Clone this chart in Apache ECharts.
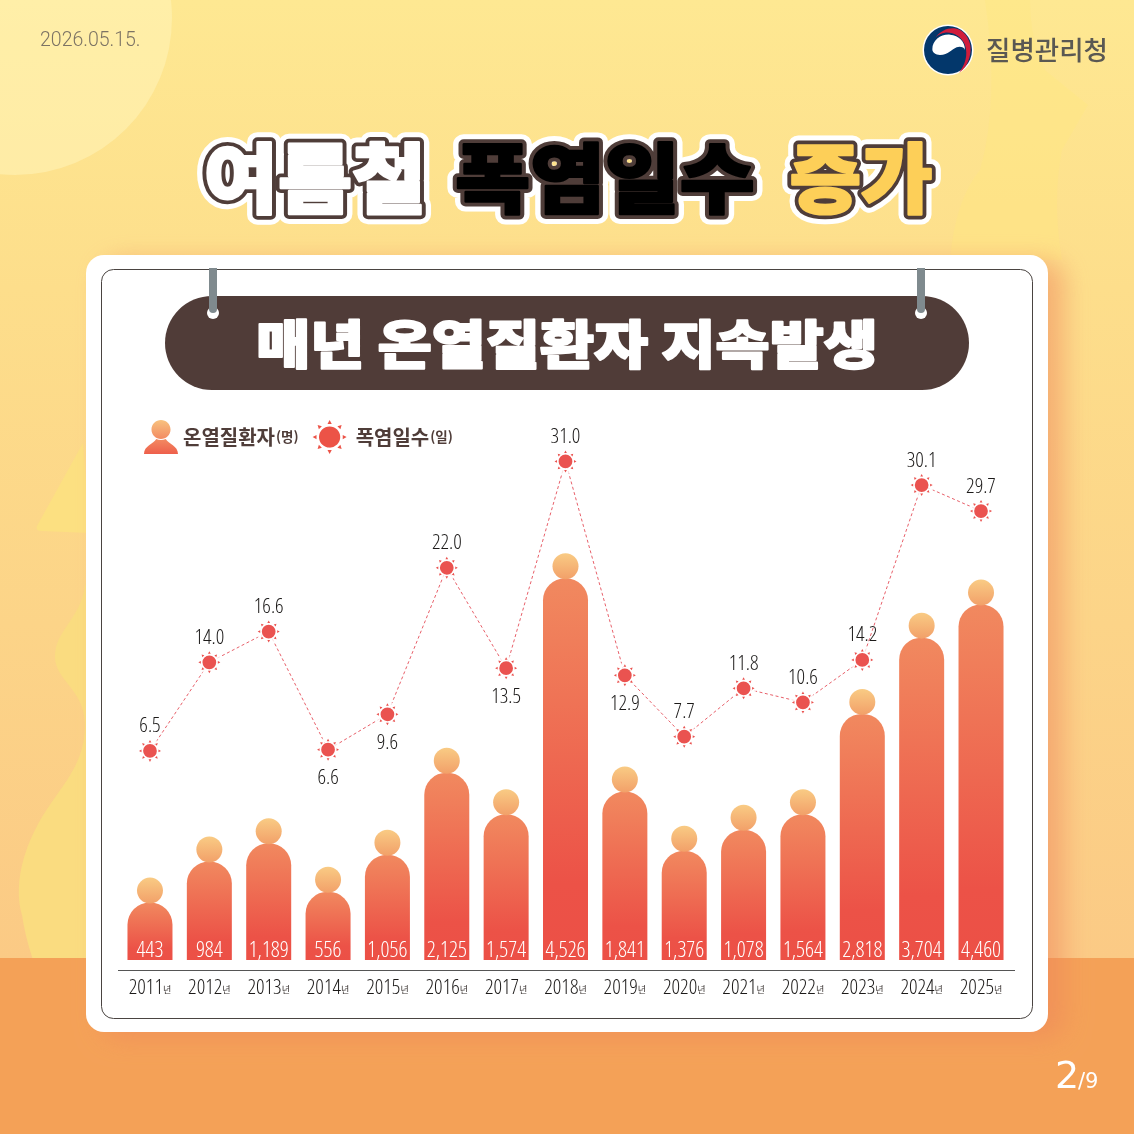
<!DOCTYPE html>
<html lang="ko">
<head>
<meta charset="utf-8">
<style>html,body{margin:0;padding:0;background:#fff}#c{width:1134px;height:1134px}</style>
<script src="https://cdn.jsdelivr.net/npm/echarts@6/dist/echarts.min.js"></script>
</head>
<body>
<div id="c"></div>
<script>
const years = ['2011','2012','2013','2014','2015','2016','2017','2018','2019','2020','2021','2022','2023','2024','2025'];
// printed figures
const patients = [443,984,1189,556,1056,2125,1574,4526,1841,1376,1078,1564,2818,3704,4460];
const heatDays = [6.5,14.0,16.6,6.6,9.6,22.0,13.5,31.0,12.9,7.7,11.8,10.6,14.2,30.1,29.7];
// values as the picture actually draws them (the graphic departs from its labels on a few years)
const patientsDrawn = [443,960,1189,580,1045,2078,1555,4526,1841,1096,1360,1555,2818,3778,4194];
const heatDaysDrawn = [6.5,14.0,16.6,6.6,9.6,22.0,13.5,31.0,12.9,7.7,11.8,10.6,14.2,29.0,26.8];
const labelsBelow = ['2014','2015','2017','2019'];

// round joins on stroked text (the title outlines)
const proto = CanvasRenderingContext2D.prototype, strokeTextOrig = proto.strokeText;
proto.strokeText = function(){ this.lineJoin='round'; return strokeTextOrig.apply(this, arguments); };

const KR = '"Noto Sans CJK KR","Noto Sans",sans-serif';
const NARROW = '"Open Sans",sans-serif';
const NARROW_WEIGHT = '300 condensed';
const chart = echarts.init(document.getElementById('c'), null, {renderer:'canvas'});
const LG = echarts.graphic.LinearGradient;
const PMIN = -280, PMAX = 6770;

function shape(name, d){
  echarts.graphic.registerShape(name, echarts.graphic.extendPath(d));
  return name;
}

function sunPath(){
  let d = 'M50 20A30 30 0 1 1 49.9 20Z';
  for(let k=0;k<8;k++){
    const a = k*Math.PI/4, c=Math.cos(a), s=Math.sin(a);
    const p = (r,o)=>((50+r*c-o*s).toFixed(1)+' '+(50+r*s+o*c).toFixed(1));
    d += 'M'+p(37,-6)+'L'+p(37,6)+'L'+p(48,0)+'Z';
  }
  return 'path://'+d;
}
const personPath = 'path://M50 0C65 0 78 12 78 28C78 44 65 56 50 56C35 56 22 44 22 28C22 12 35 0 50 0ZM36 56C44 60 56 60 64 56C72 70 100 76 100 100L0 100C0 76 28 70 36 56Z';

function titleRun(text, x, fill, sx){
  const y = 178, font = '900 76px '+KR;
  const common = {silent:true,scaleX:sx,originX:x,originY:y};
  const st = {text,x,y,align:'center',verticalAlign:'middle',font};
  return [
    {type:'text',z:20,...common,style:{...st,fill:'#fff',stroke:'#fff',lineWidth:20}},
    {type:'text',z:21,...common,style:{...st,fill,stroke:'#4f3d39',lineWidth:10}},
    {type:'text',z:22,...common,style:{...st,fill,stroke:fill,lineWidth:2.5}}
  ];
}

const bg = [
  {type:'rect',z:-10,silent:true,shape:{x:0,y:0,width:1134,height:960},style:{fill:new LG(0,0,0,1,[{offset:0,color:'#FEE892'},{offset:.3,color:'#FDDE8B'},{offset:1,color:'#FBCA85'}])}},
  {type:'circle',z:-9,silent:true,shape:{cx:15,cy:18,r:157},style:{fill:'rgba(255,246,190,.5)'}},
  {type:shape('blobTR','M985 0L1030 0Q1030 40 1045 70L1088 105L1062 150Q1052 200 1062 260L950 260Q955 200 980 170Q1000 100 985 0Z'),z:-9,silent:true,style:{fill:'rgba(255,233,125,.35)'}},
  {type:shape('blobTri','M83 443L37 526Q35 531 42 531L90 533Z'),z:-9,silent:true,style:{fill:'#FCE081'}},
  {type:shape('blobWave','M90 570L85 586C80 620 55 630 55 657C55 680 85 690 85 725C85 770 55 790 35 830C20 860 15 890 22 915C25 935 30 950 33 960L100 960L100 570Z'),z:-9,silent:true,style:{fill:'#FADC80'}},
  {type:'rect',z:-8,silent:true,shape:{x:0,y:958,width:1134,height:176},style:{fill:'#F4A157'}},
  {type:'text',z:-7,silent:true,style:{text:'2026.05.15.',x:40,y:41,verticalAlign:'middle',font:'300 19.5px Roboto',fill:'#7c7364'}},
  {type:'circle',z:-7,silent:true,shape:{cx:948,cy:50,r:25.5},style:{fill:'#fff'}},
  {type:'circle',z:-7,silent:true,shape:{cx:948,cy:50,r:24},style:{fill:'#03376B'}},
  {type:shape('logoRed','M62 52C80 28 110 18 135 30C160 45 172 75 165 105C160 130 148 148 132 158C150 135 160 105 150 75C140 50 115 36 90 38C80 39 70 44 62 52Z'),z:-7,silent:true,x:915,y:20,scaleX:1/3,scaleY:1/3,style:{fill:'#D01C3C'}},
  {type:shape('logoWhite','M52 88C52 60 78 42 105 44C132 46 150 65 150 90C148 82 135 78 125 82C110 88 100 105 75 105C62 105 52 98 52 88Z'),z:-7,silent:true,x:915,y:20,scaleX:1/3,scaleY:1/3,style:{fill:'#fff'}},
  {type:'text',z:-7,silent:true,style:{text:'질병관리청',x:986,y:50,verticalAlign:'middle',font:'500 26.5px '+KR,fill:'#5a5853'}},
  {type:'rect',z:-6,silent:true,shape:{x:86,y:255,width:962,height:777,r:18},style:{fill:'#fff',shadowBlur:26,shadowColor:'rgba(238,130,90,.5)',shadowOffsetX:16,shadowOffsetY:6}},
  {type:'rect',z:-5,silent:true,shape:{x:101.5,y:269.5,width:931,height:749,r:12},style:{fill:'#fff',stroke:'#4a4441',lineWidth:1}},
  {type:'rect',z:-4,silent:true,shape:{x:165,y:296,width:804,height:94,r:47},style:{fill:'#503C38'}},
  {type:'text',z:-3,silent:true,scaleX:1.13,originX:567,originY:344,style:{text:'매년 온열질환자 지속발생',x:567,y:344,align:'center',verticalAlign:'middle',font:'900 52px '+KR,fill:'#fff',stroke:'#fff',lineWidth:2}},
  {type:'circle',z:-3,silent:true,shape:{cx:213,cy:313,r:6},style:{fill:'#fff'}},
  {type:'circle',z:-3,silent:true,shape:{cx:921,cy:313,r:6},style:{fill:'#fff'}},
  {type:'rect',z:-2,silent:true,shape:{x:209,y:268,width:8,height:45,r:[0,0,4,4]},style:{fill:'#7F8A8E'}},
  {type:'rect',z:-2,silent:true,shape:{x:917,y:268,width:8,height:45,r:[0,0,4,4]},style:{fill:'#7F8A8E'}},
  {type:'line',z:-2,silent:true,shape:{x1:118,y1:970.5,x2:1015,y2:970.5},style:{stroke:'#555',lineWidth:1}},
  {type:'text',z:-2,silent:true,style:{text:'2',x:1055,y:1078,verticalAlign:'middle',font:'500 38px "DejaVu Sans"',fill:'#fff'}},
  {type:'text',z:-2,silent:true,style:{text:'/9',x:1078,y:1083,verticalAlign:'middle',font:'400 21px "DejaVu Sans"',fill:'#fff'}},
  ...titleRun('여름철',315,'#ffffff',1.06),
  ...titleRun('폭염일수',605,'#000000',1.07),
  ...titleRun('증가',861,'#FDCF58',1.02)
];

function renderPerson(params, api){
  const i = api.value(0), drawn = api.value(1), printed = api.value(2);
  const top = api.coord([i, drawn]), base = api.coord([i, PMIN]);
  const w = 45, x = top[0]-w/2, h = base[1]-top[1];
  return {type:'group',children:[
    {type:'rect',shape:{x,y:top[1],width:w,height:h,r:[22,22,0,0]},
      style:{fill:new LG(0,0,0,1,[{offset:0,color:'#F1895F'},{offset:.8,color:'#EC5247'},{offset:1,color:'#EC5046'}])}},
    {type:'circle',shape:{cx:top[0],cy:top[1]-12,r:13},
      style:{fill:new LG(0,0,0,1,[{offset:0,color:'#F9CB84'},{offset:1,color:'#F2A069'}])}},
    {type:'text',style:{text:printed.toLocaleString('en-US'),x:top[0],y:base[1]-9,align:'center',verticalAlign:'middle',
      font:NARROW_WEIGHT+' 22px '+NARROW,fill:'#fff'}}
  ]};
}

chart.setOption({
  animation:false,
  backgroundColor:'#fff',
  graphic:{elements:bg},
  legend:{
    left:144, top:420, itemWidth:34, itemHeight:35, itemGap:14, padding:0, selectedMode:false,
    data:[
      {name:'온열질환자',icon:personPath,itemStyle:{color:new LG(0,0,0,1,[{offset:0,color:'#F8C27E'},{offset:1,color:'#EE5F4B'}])}},
      {name:'폭염일수',icon:sunPath(),itemStyle:{color:'#EC5347'}}
    ],
    formatter:n=>n==='폭염일수'?'{c|'+n+'}{b|(일)}':'{a|'+n+'}{b|(명)}',
    textStyle:{rich:{
      a:{fontFamily:KR,fontSize:20,fontWeight:700,color:'#4f3d39',padding:[0,1,0,0]},
      c:{fontFamily:KR,fontSize:20,fontWeight:700,color:'#4f3d39',padding:[0,1,0,4]},
      b:{fontFamily:KR,fontSize:13.5,fontWeight:700,color:'#4f3d39'}
    }}
  },
  grid:{left:120.3,right:123.3,top:400,bottom:174},
  xAxis:{type:'category',data:years,offset:10,boundaryGap:true,
    axisLine:{show:true,onZero:false,lineStyle:{color:'#555',width:1}},axisTick:{show:false},
    axisLabel:{margin:8,interval:0,formatter:v=>'{y|'+v+'}{u|년}',
      rich:{y:{fontFamily:NARROW,fontWeight:NARROW_WEIGHT,fontSize:21,color:'#1c1a19'},u:{fontFamily:KR,fontSize:9,color:'#3b3533',padding:[3,0,0,0]}}}},
  yAxis:[
    {type:'value',min:PMIN,max:PMAX,show:false,splitLine:{show:false}},
    {type:'value',min:-11.2,max:36.2,show:false,splitLine:{show:false}}
  ],
  series:[
    {name:'온열질환자',type:'custom',xAxisIndex:0,yAxisIndex:0,z:2,clip:false,
     renderItem:renderPerson,encode:{x:0,y:1},
     data:years.map((_,i)=>[i,patientsDrawn[i],patients[i]])},
    {name:'폭염일수',type:'line',xAxisIndex:0,yAxisIndex:1,z:3,symbol:'none',
     lineStyle:{color:'#E8606A',width:1,type:[3,2.5]},
     data:heatDaysDrawn},
    {name:'halo',type:'scatter',xAxisIndex:0,yAxisIndex:1,z:4,symbol:'circle',symbolSize:25,silent:true,
     itemStyle:{color:'#fff'},data:heatDaysDrawn},
    {name:'폭염일수 표식',type:'scatter',xAxisIndex:0,yAxisIndex:1,z:5,symbol:sunPath(),symbolSize:22,
     itemStyle:{color:'#EA5350',opacity:1},
     data:heatDaysDrawn.map((v,i)=>{
       const below = labelsBelow.includes(years[i]);
       return {value:v,label:{position:below?'bottom':'top',distance:below?7:3}};
     }),
     label:{show:true,color:'#1c1a19',fontFamily:NARROW,fontWeight:NARROW_WEIGHT,fontSize:21,
       formatter:p=>heatDays[p.dataIndex].toFixed(1)}}
  ]
});
</script>
</body>
</html>
